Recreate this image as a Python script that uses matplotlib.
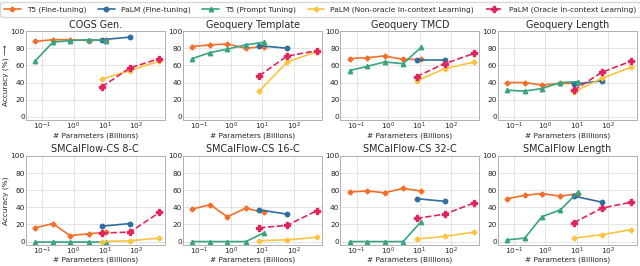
import matplotlib
matplotlib.use("Agg")
from matplotlib import pyplot as plt
import seaborn as sns

# model sizes (billions of parameters)
t5_sizes = [0.06, 0.22, 0.77, 3, 11]
palm_sizes = [8, 62, 540]

titles = ["COGS Gen.", "Geoquery Template", "Geoquery TMCD", "Geoquery Length",
          "SMCalFlow-CS 8-C", "SMCalFlow-CS 16-C", "SMCalFlow-CS 32-C", "SMCalFlow Length"]

t5_ft = [
    [88, 90, 90, 89, 90],
    [82, 84, 85, 80, 82],
    [68, 69, 71, 67, 67],
    [40, 40, 37, 39, 39],
    [16, 21, 7, 9, 11],
    [38, 43, 29, 39, 34],
    [58, 59, 57, 62, 59],
    [50, 54, 56, 53, 56],
]
palm_ft = [
    [90, 93],
    [83, 80],
    [66, 66],
    [38, 42],
    [18, 21],
    [37, 32],
    [50, 47],
    [53, 46],
]
t5_pt = [
    [65, 87, 89, 90, 89],
    [68, 75, 79, 84, 87],
    [54, 59, 64, 62, 81],
    [31, 30, 33, 40, 41],
    [0, 0, 0, 0, 0],
    [0, 0, 0, 0, 10],
    [0, 0, 0, 0, 23],
    [2, 4, 29, 37, 58],
]
palm_icl = [
    [44, 54, 65],
    [30, 64, 76],
    [42, 56, 64],
    [29, 45, 58],
    [0, 1, 4],
    [1, 2, 5],
    [3, 6, 11],
    [4, 8, 14],
]
palm_oracle = [
    [35, 57, 68],
    [48, 71, 77],
    [47, 62, 74],
    [31, 52, 65],
    [10, 11, 34],
    [16, 19, 36],
    [27, 32, 45],
    [22, 39, 46],
]

sns.set_style("whitegrid")
plt.rcParams['font.family'] = ['DejaVu Sans']
plt.rcParams['axes.edgecolor'] = '#b0b0b0'
plt.rcParams['grid.color'] = '#e4e4e4'

c_t5ft = '#f46f2a'
c_palmft = '#2f6e9d'
c_t5pt = '#38a57f'
c_icl = '#fbc43f'
c_oracle = '#e2245c'

fs = 5.3
fig, axes = plt.subplots(2, 4, figsize=(6.4, 2.66), dpi=100)
plt.subplots_adjust(left=0.04, right=0.995, top=0.883, bottom=0.079,
                    wspace=0.13, hspace=0.4)

for i, ax in enumerate(axes.flat):
    kw = dict(lw=1.2, ms=3.2)
    ax.plot(t5_sizes, t5_ft[i], color=c_t5ft, marker='P', label='T5 (Fine-tuning)', **kw)
    ax.plot(palm_sizes[:2], palm_ft[i], color=c_palmft, marker='o', label='PaLM (Fine-tuning)', **kw)
    ax.plot(t5_sizes, t5_pt[i], color=c_t5pt, marker='^', label='T5 (Prompt Tuning)', **kw)
    ax.plot(palm_sizes, palm_icl[i], color=c_icl, marker='P',
            label='PaLM (Non-oracle In-context Learning)', **kw)
    ax.plot(palm_sizes, palm_oracle[i], color=c_oracle, marker='P', ls='--',
            label='PaLM (Oracle In-context Learning)', lw=1.2, ms=4.2)
    ax.set_xscale('log')
    ax.set_xlim(0.03, 800)
    ax.set_ylim(-4, 100)
    ax.set_yticks([0, 20, 40, 60, 80, 100])
    ax.set_xticks([0.1, 1, 10, 100])
    ax.minorticks_off()
    ax.tick_params(labelsize=fs, pad=0.5, length=0)
    ax.set_title(titles[i], fontsize=6.9, pad=2.5)
    ax.set_xlabel("# Parameters (Billions)", fontsize=fs, labelpad=0)
    for s in ax.spines.values():
        s.set_linewidth(0.7)
    ax.grid(lw=0.7)

axes[0, 0].set_ylabel("Accuracy (%) \u27f6", fontsize=fs, labelpad=1.5)
axes[1, 0].set_ylabel("Accuracy (%)", fontsize=fs, labelpad=1.5)

handles, labels = axes[0, 0].get_legend_handles_labels()
fig.legend(handles, labels, loc='upper center', bbox_to_anchor=(0.5, 1.005), ncol=5,
           fontsize=5.4, frameon=True, edgecolor='#d0d0d0', handlelength=2.2,
           columnspacing=1.6, borderpad=0.5, fancybox=True)

plt.savefig("out.png", dpi=100)
